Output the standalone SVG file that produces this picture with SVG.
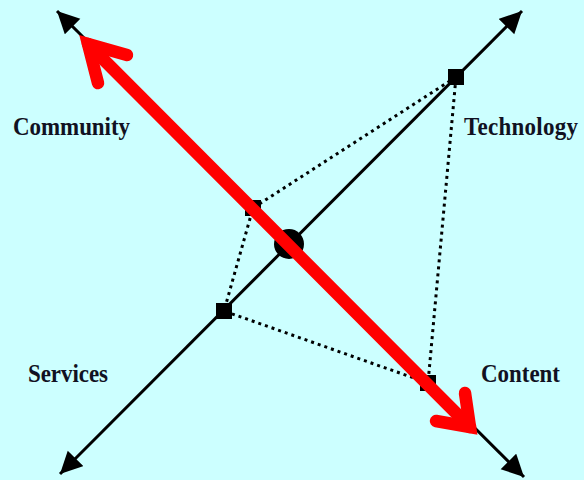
<svg xmlns="http://www.w3.org/2000/svg" width="584" height="480" viewBox="0 0 584 480">
<style>
.axis{stroke:#000;stroke-width:3;fill:none}
.dot{stroke:#000;stroke-width:3;stroke-dasharray:3 4;fill:none}
.sq{fill:#000}
.lbl{font-family:"Liberation Serif","Times New Roman",serif;font-weight:bold;font-size:23px;fill:#111122}
.red{stroke:#ff0000;stroke-width:12.5;fill:none;stroke-linecap:round;stroke-linejoin:miter}
</style>
<defs>
<marker id="ah" markerUnits="userSpaceOnUse" markerWidth="26" markerHeight="24" refX="22" refY="11" orient="auto-start-reverse" viewBox="0 0 26 24">
<path d="M0,0 L22,11 L0,22 Z" fill="#000"/>
</marker>
</defs>
<rect width="584" height="480" fill="#ccffff"/>
<g id="connectors">
<line id="axis-asc" class="axis" x1="60" y1="474" x2="522" y2="11" marker-start="url(#ah)" marker-end="url(#ah)"/>
<line id="axis-desc" class="axis" x1="57" y1="11" x2="524" y2="477" marker-start="url(#ah)" marker-end="url(#ah)"/>
<polygon id="quad" class="dot" points="456,77 253,208 224,311 428,383"/>
</g>
<g id="node-tech"><rect class="sq" x="448" y="69" width="16" height="16"/></g>
<g id="node-comm"><rect class="sq" x="245" y="200" width="16" height="16"/></g>
<g id="node-serv"><rect class="sq" x="216" y="303" width="16" height="16"/></g>
<g id="node-cont"><rect class="sq" x="420" y="375" width="16" height="16"/></g>
<g id="node-center"><circle cx="289" cy="244" r="15" fill="#000"/></g>
<g id="red-arrow">
<line class="red" x1="88" y1="44" x2="470" y2="427"/>
<polyline class="red" points="98,83 88,44 127,55"/>
<polyline class="red" points="465,393 470,427 436,421"/>
</g>
<g id="labels">
<text class="lbl" transform="translate(13,135) scale(1,1.12)" textLength="117">Community</text>
<text class="lbl" transform="translate(464,135) scale(1,1.12)" textLength="114">Technology</text>
<text class="lbl" transform="translate(28,382) scale(1,1.12)" textLength="80">Services</text>
<text class="lbl" transform="translate(481,382) scale(1,1.12)" textLength="79">Content</text>
</g>
</svg>
